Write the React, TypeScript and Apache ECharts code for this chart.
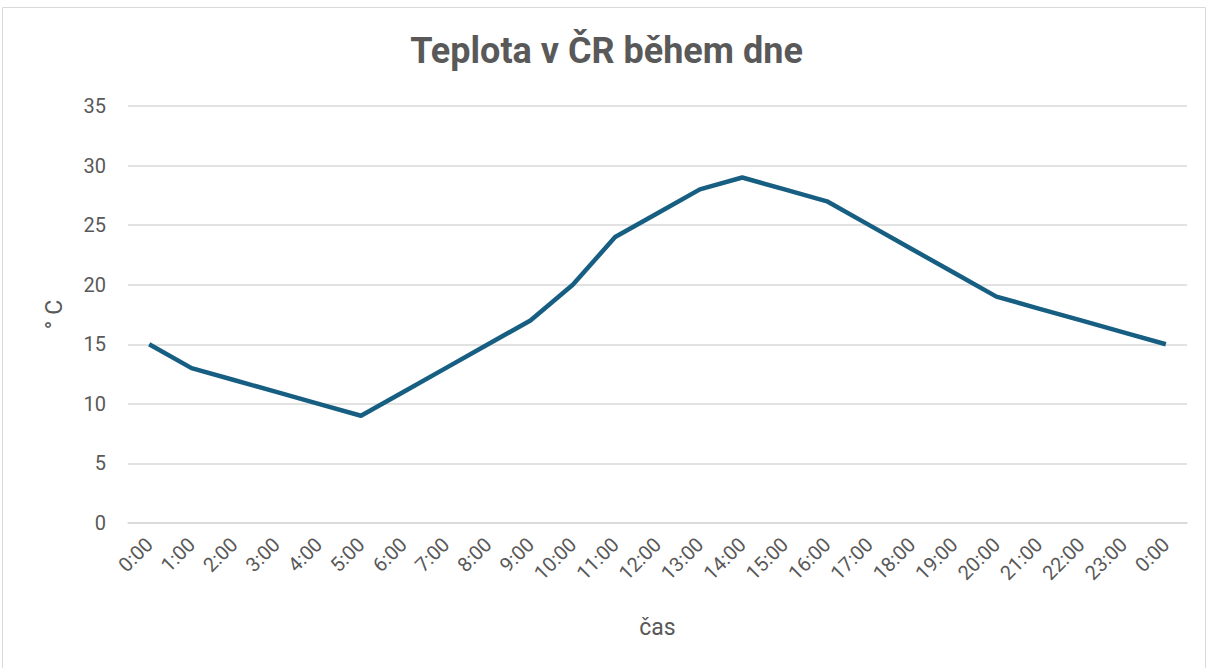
import React, { useEffect, useRef } from "react";
import * as echarts from "echarts";

const title = "Teplota v ČR během dne";
const categories = [
  "0:00", "1:00", "2:00", "3:00", "4:00", "5:00", "6:00", "7:00", "8:00", "9:00",
  "10:00", "11:00", "12:00", "13:00", "14:00", "15:00", "16:00", "17:00", "18:00",
  "19:00", "20:00", "21:00", "22:00", "23:00", "0:00",
];
const temperatures = [15, 13, 12, 11, 10, 9, 11, 13, 15, 17, 20, 24, 26, 28, 29, 28, 27, 25, 23, 21, 19, 18, 17, 16, 15];
const yAxisName = "° C";
const xAxisName = "čas";

export default function App() {
  const ref = useRef<HTMLDivElement>(null);
  useEffect(() => {
    if (!ref.current) return;
    const chart = echarts.init(ref.current, undefined, { renderer: "svg" });
    const text = "#595959";
    chart.setOption({
      animation: false,
      backgroundColor: "#ffffff",
      textStyle: { fontFamily: "Roboto" },
      title: {
        text: title,
        left: "center",
        top: 28,
        textStyle: { fontSize: 36, fontWeight: "bold", color: text, fontFamily: "Roboto" },
      },
      graphic: [
        {
          type: "rect",
          shape: { x: 2.5, y: 7.5, width: 1203, height: 700 },
          style: { fill: "none", stroke: "#d9d9d9", lineWidth: 1 },
          silent: true,
        },
      ],
      grid: { left: 128, right: 26, top: 106, bottom: 145 },
      xAxis: {
        type: "category",
        data: categories,
        boundaryGap: true,
        name: xAxisName,
        nameLocation: "middle",
        nameGap: 93,
        nameTextStyle: { fontSize: 23, color: text },
        axisLine: { lineStyle: { color: "#d9d9d9", width: 1.5 } },
        axisTick: { show: false },
        axisLabel: { rotate: 45, fontSize: 20, color: text, margin: 18, interval: 0 },
      },
      yAxis: {
        type: "value",
        min: 0,
        max: 35,
        interval: 5,
        name: yAxisName,
        nameLocation: "middle",
        nameGap: 62,
        nameTextStyle: { fontSize: 23, color: text },
        axisLine: { show: false },
        axisTick: { show: false },
        axisLabel: { fontSize: 20, color: text, margin: 22 },
        splitLine: { lineStyle: { color: "#d9d9d9", width: 1.5 } },
      },
      series: [
        {
          type: "line",
          data: temperatures,
          showSymbol: false,
          lineStyle: { color: "#175f82", width: 4.5 },
          itemStyle: { color: "#175f82" },
        },
      ],
    });
    return () => chart.dispose();
  }, []);
  return (
    <div
      ref={ref}
      style={{ position: "fixed", left: 0, top: 0, width: 1213, height: 668 }}
    />
  );
}
